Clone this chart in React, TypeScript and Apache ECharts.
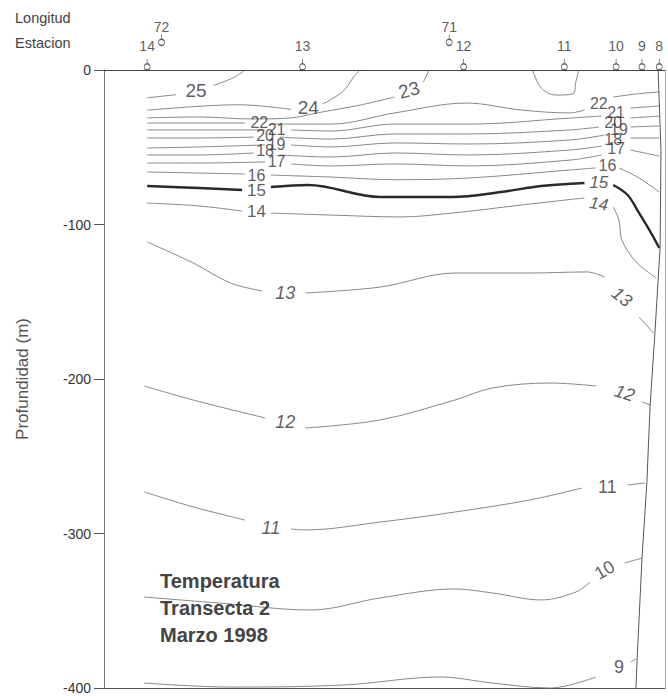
import React, { useEffect, useRef } from "react";
import * as echarts from "echarts";

const FONT = '"Liberation Sans", Arial, Helvetica, sans-serif';

// Stations along the transect (longitude W)
const stations = ["14", "13", "12", "11", "10", "9", "8"];
const stationLon = [72.05, 71.51, 70.95, 70.6, 70.42, 70.33, 70.27];
const lonTicks = [72, 71];
const depthTicks = [0, -100, -200, -300, -400];

// Isotherms: segments of [longitude, depth(m)]
const iso25 = [
  [[72.05, -18], [71.95, -16]],
  [[71.82, -10], [71.75, -5], [71.71, 0]],
];
const iso24 = [
  [[72.05, -26], [71.87, -23.5], [71.73, -22.5], [71.55, -25.5]],
  [[71.44, -22], [71.37, -14], [71.33, -4], [71.31, 0]],
];
const iso23 = [
  [[72.05, -31], [71.87, -30.4], [71.69, -31.7], [71.55, -31], [71.46, -27.8], [71.31, -22.7], [71.19, -17.5]],
  [[71.09, -8], [71.07, 0]],
];
const iso23b = [
  [[70.71, 0], [70.68, -11.7], [70.63, -16.2], [70.57, -15.5], [70.56, -7.8], [70.55, 0]],
];
const iso22 = [
  [[72.05, -34.3], [71.87, -34.3], [71.71, -34.3]],
  [[71.62, -35], [71.41, -35], [71.19, -27.8], [70.94, -21.4], [70.75, -25.9], [70.58, -27.8], [70.53, -25.9]],
  [[70.43, -17.5], [70.35, -15.5], [70.27, -14.2]],
];
const iso21 = [
  [[72.05, -38.8], [71.87, -38.8], [71.64, -38.8]],
  [[71.55, -38.8], [71.41, -39.5], [71.19, -35], [70.93, -35], [70.58, -31.1], [70.47, -29.8]],
  [[70.37, -24.6], [70.27, -23.3]],
];
const iso20 = [
  [[72.05, -44], [71.87, -44], [71.68, -43.4]],
  [[71.59, -43.4], [71.41, -44.7], [71.19, -41.4], [70.93, -41.4], [70.58, -38.8], [70.48, -36.9]],
  [[70.37, -31.1], [70.27, -29.8]],
];
const iso19 = [
  [[72.05, -50.5], [71.87, -49.8], [71.64, -48.5]],
  [[71.55, -48.5], [71.41, -49.8], [71.19, -47.2], [70.93, -47.9], [70.58, -45.3], [70.46, -42.1]],
  [[70.37, -36.9], [70.27, -36.2]],
];
const iso18 = [
  [[72.05, -55], [71.87, -55], [71.68, -53.7]],
  [[71.59, -55], [71.41, -56.3], [71.19, -53.7], [70.93, -55], [70.58, -51.8], [70.47, -49.2]],
  [[70.37, -44], [70.27, -44]],
];
const iso17 = [
  [[72.05, -60.2], [71.87, -60.2], [71.64, -59.5]],
  [[71.55, -60.8], [71.41, -62.1], [71.19, -60.8], [70.93, -62.1], [70.58, -58.3], [70.47, -55]],
  [[70.37, -51.8], [70.27, -55.7]],
];
const iso16 = [
  [[72.05, -66], [71.87, -66.7], [71.71, -67.3]],
  [[71.62, -68], [71.41, -69.3], [71.19, -71], [70.93, -69.9], [70.58, -64.7], [70.49, -63.4]],
  [[70.41, -63.4], [70.34, -69.9], [70.27, -79]],
];
const iso15 = [
  [[72.05, -75.1], [71.87, -76.4], [71.72, -77.7]],
  [[71.62, -75.7], [71.49, -74.4], [71.24, -82.2], [70.99, -82.2], [70.82, -79], [70.68, -75.1], [70.53, -73.1]],
  [[70.43, -74.4], [70.38, -80.9], [70.34, -92.6], [70.3, -104.9], [70.27, -115.2]],
];
const iso14 = [
  [[72.05, -86.1], [71.87, -88], [71.72, -91.3]],
  [[71.62, -92.6], [71.41, -93.9], [71.17, -95.1], [70.99, -92.6], [70.75, -87.4], [70.53, -82.8]],
  [[70.43, -88.7], [70.41, -97.1], [70.4, -110], [70.35, -124.3], [70.28, -134.6]],
];
const iso13 = [
  [[72.05, -111.3], [71.89, -124.9], [71.76, -137.9], [71.65, -143]],
  [[71.5, -144.3], [71.24, -140.5], [70.98, -131.4], [70.72, -131.4], [70.52, -130.7], [70.46, -134]],
  [[70.34, -159.9], [70.29, -170.2]],
];
const iso12 = [
  [[72.06, -204.5], [71.89, -213.6], [71.64, -225.2]],
  [[71.5, -231.7], [71.24, -226.5], [70.98, -213.6], [70.85, -205.8], [70.65, -202.6], [70.49, -204.5]],
  [[70.33, -214.9], [70.3, -216.8]],
];
const iso11 = [
  [[72.06, -273.1], [71.89, -282.8], [71.71, -291.3]],
  [[71.55, -297.1], [71.5, -297.7], [71.24, -292.6], [70.98, -286.1], [70.72, -278.3], [70.54, -270.6]],
  [[70.38, -268.6], [70.32, -267.3]],
];
const iso10 = [
  [[72.06, -341.1], [71.8, -345], [71.48, -349.5], [71.24, -341.7], [70.98, -335.9], [70.85, -338.5], [70.68, -343], [70.56, -337.9], [70.51, -331.4]],
  [[70.39, -319.1], [70.33, -315.9]],
];
const iso9 = [
  [[72.06, -396.8], [71.76, -399.4], [71.37, -398.1], [71.03, -392.9], [70.85, -396.8], [70.65, -400], [70.49, -392.9]],
  [[70.37, -383.2], [70.35, -381.2]],
];
const seafloor = [
  [70.274, 0], [70.264, -52], [70.267, -115], [70.285, -170], [70.302, -218],
  [70.313, -267], [70.33, -316], [70.347, -382], [70.351, -400],
];

// Contour labels: [longitude, depth, value]
const contourLabels = [
  [71.88, -13.5, 25], [71.49, -24, 24], [71.14, -13, 23],
  [71.66, -34.3, 22], [71.6, -38.8, 21], [71.64, -42.7, 20], [71.6, -47.9, 19],
  [71.64, -52.4, 18], [71.6, -58.9, 17], [71.67, -68, 16], [71.67, -77.7, 15], [71.67, -91.9, 14],
  [70.48, -21.4, 22], [70.42, -27.8, 21], [70.43, -33.7, 20], [70.41, -38.8, 19],
  [70.43, -45.3, 18], [70.42, -51.1, 17], [70.45, -62.1, 16], [70.48, -72.5, 15], [70.48, -86.7, 14],
  [71.57, -144.3, 13], [70.4, -146.9, 13],
  [71.57, -227.8, 12], [70.39, -209.1, 12],
  [71.62, -296.4, 11], [70.45, -269.9, 11],
  [70.46, -323.6, 10], [70.41, -386.4, 9],
];

const isotherms = [
  { name: "25", segs: iso25 }, { name: "24", segs: iso24 }, { name: "23", segs: iso23 },
  { name: "23b", segs: iso23b }, { name: "22", segs: iso22 }, { name: "21", segs: iso21 },
  { name: "20", segs: iso20 }, { name: "19", segs: iso19 }, { name: "18", segs: iso18 },
  { name: "17", segs: iso17 }, { name: "16", segs: iso16 }, { name: "15", segs: iso15 },
  { name: "14", segs: iso14 }, { name: "13", segs: iso13 }, { name: "12", segs: iso12 },
  { name: "11", segs: iso11 }, { name: "10", segs: iso10 }, { name: "9", segs: iso9 },
];

// label styles (index-aligned with contourLabels)
const labelStyle = (i: number) => {
  const v = contourLabels[i][2];
  const right = contourLabels[i][0] < 71;
  const st: any = { fontSize: 16 };
  if (v >= 23 && !right) st.fontSize = 19;
  if (v === 23) st.rotate = 15;
  if (v <= 13) { st.fontSize = 18; st.fontStyle = "italic"; }
  if (right && v === 14) { st.rotate = -8; st.fontStyle = "italic"; st.fontSize = 17; }
  if (right && v === 15) { st.fontStyle = "italic"; st.fontSize = 17; }
  if (right && v === 13) st.rotate = -38;
  if (right && v === 12) st.rotate = -18;
  if (v === 10) { st.rotate = 30; st.fontStyle = "normal"; }
  if (v === 9 || (right && v === 11)) st.fontStyle = "normal";
  if (!right && (v === 15 || v === 14)) st.fontSize = 17;
  return st;
};

const STEM_CIRCLE = "path://M5,0L5,6M9,10A4,4,0,1,1,1,10A4,4,0,1,1,9,10Z";

function joinSegments(segs: number[][][]) {
  const out: number[][] = [];
  segs.forEach((s, i) => {
    if (i > 0) out.push([NaN, NaN]);
    s.forEach((p) => out.push(p));
  });
  return out;
}

export default function App() {
  const ref = useRef<HTMLDivElement>(null);
  useEffect(() => {
    const chart = echarts.init(ref.current as HTMLDivElement, null, { renderer: "svg" });
    const contourSeries = isotherms.map((iso) => ({
      type: "line",
      name: iso.name,
      xAxisIndex: 0,
      yAxisIndex: 0,
      data: joinSegments(iso.segs),
      smooth: 0.35,
      symbol: "none",
      silent: true,
      connectNulls: false,
      lineStyle: iso.name === "15"
        ? { color: "#2a2a2a", width: 2.4 }
        : { color: "#7a7a7a", width: 0.9 },
      z: 2,
    }));

    const option: any = {
      animation: false,
      backgroundColor: "#fff",
      textStyle: { fontFamily: FONT },
      grid: { left: 104, right: 3, top: 70, bottom: 8 },
      title: {
        text: "Temperatura\nTransecta 2\nMarzo 1998",
        left: 160,
        top: 567,
        padding: 0,
        textStyle: { fontFamily: FONT, fontSize: 20, fontWeight: "bold", color: "#444", lineHeight: 27 },
      },
      graphic: [
        { type: "text", left: 15, top: 10, style: { text: "Longitud", fontSize: 14.5, fontFamily: FONT, fill: "#444" } },
        { type: "text", left: 15, top: 35, style: { text: "Estacion", fontSize: 14.5, fontFamily: FONT, fill: "#444" } },
      ],
      xAxis: [
        {
          type: "value", position: "top", min: 70.25, max: 72.2, inverse: true,
          axisLine: { show: true, onZero: false, lineStyle: { color: "#444", width: 1 } },
          axisTick: { show: false }, axisLabel: { show: false }, splitLine: { show: false },
        },
        {
          type: "value", position: "bottom", min: 70.25, max: 72.2, inverse: true,
          axisLine: { show: true, onZero: false, lineStyle: { color: "#555", width: 1 } },
          axisTick: { show: false }, axisLabel: { show: false }, splitLine: { show: false },
        },
      ],
      yAxis: [
        {
          type: "value", min: depthTicks[4], max: depthTicks[0], interval: 100,
          name: "Profundidad (m)", nameLocation: "middle", nameGap: 73,
          nameTextStyle: { fontSize: 17, color: "#555", fontFamily: FONT },
          axisLine: { show: true, onZero: false, lineStyle: { color: "#777", width: 1 } },
          axisTick: { show: true, length: 10, lineStyle: { color: "#555" } },
          axisLabel: { fontSize: 14, color: "#333", margin: 13, fontFamily: FONT },
          splitLine: { show: false },
        },
        {
          type: "value", position: "right", min: -400, max: 0, interval: 100,
          axisLine: { show: true, onZero: false, lineStyle: { color: "#aaa", width: 1 } },
          axisTick: { show: false }, axisLabel: { show: false }, splitLine: { show: false },
        },
      ],
      series: [
        ...contourSeries,
        {
          type: "line", name: "fondo", data: seafloor, symbol: "none", silent: true,
          lineStyle: { color: "#555", width: 1 }, z: 2,
        },
        {
          type: "scatter", name: "labels", clip: false, silent: true, symbolSize: 1,
          itemStyle: { color: "rgba(0,0,0,0)" },
          data: contourLabels.map((l, i) => ({
            value: [l[0], l[1]],
            name: String(l[2]),
            label: labelStyle(i),
          })),
          label: { show: true, position: "inside", formatter: "{b}", color: "#333", fontFamily: FONT },
          z: 5,
        },
        {
          type: "scatter", name: "estaciones", clip: false, silent: true,
          data: stationLon.map((lon, i) => ({ value: [lon, 0], name: stations[i] })),
          symbol: STEM_CIRCLE, symbolSize: [6, 11], symbolOffset: [0, -5.5],
          itemStyle: { color: "rgba(255,255,255,0)", borderColor: "#333", borderWidth: 1 },
          label: { show: true, position: "top", distance: 5, formatter: "{b}", fontSize: 14, color: "#333", fontFamily: FONT },
          z: 6,
        },
        {
          type: "scatter", name: "longitud", clip: false, silent: true,
          data: lonTicks.map((lon) => ({ value: [lon, 0], name: String(lon) })),
          symbol: STEM_CIRCLE, symbolSize: [6, 11], symbolOffset: [0, -30],
          itemStyle: { color: "rgba(255,255,255,0)", borderColor: "#333", borderWidth: 1 },
          label: { show: true, position: "top", distance: 0, formatter: "{b}", fontSize: 14, color: "#333", fontFamily: FONT },
          z: 6,
        },
      ],
    };
    chart.setOption(option);
    return () => chart.dispose();
  }, []);
  return (
    <div
      ref={ref}
      style={{ position: "absolute", left: 0, top: 0, width: 668, height: 696, background: "#fff" }}
    />
  );
}
